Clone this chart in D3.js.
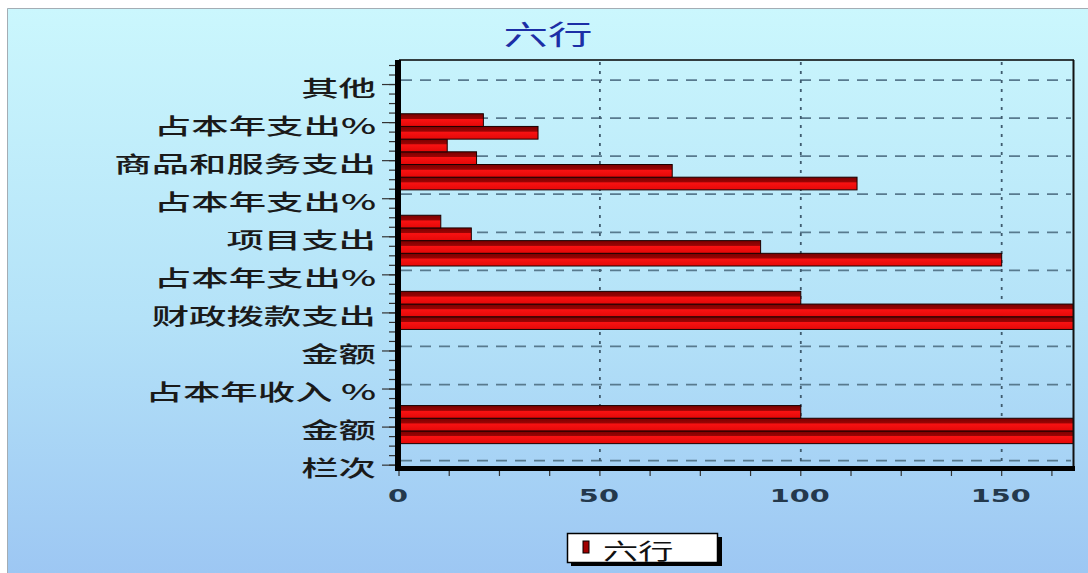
<!DOCTYPE html>
<html><head><meta charset="utf-8">
<script src="https://cdn.jsdelivr.net/npm/d3@7"></script>
<style>html,body{margin:0;padding:0;background:#fff;} svg{display:block}</style>
</head><body><svg id="c" width="1088" height="573"></svg>
<script>
// ---- data ----
const chartTitle = "六行";
const seriesName = "六行";
const categories = ["栏次","","","金额","","","占本年收入 %","","","金额","","",
  "财政拨款支出","","","占本年支出%","","","项目支出","","","占本年支出%","","",
  "商品和服务支出","","","占本年支出%","","","其他",""];
const values = [0,0,200,200,100,0,0,0,0,0,0,200,200,100,0,0,
  150,90,18,10.4,0,0,114,68,19.3,12,34.6,21,0,0,0,0];
const xTickValues = [0,50,100,150];
const xMax = 167.5;

// ---- layout ----
const svg = d3.select("#c");
const W = 1088, H = 573;
const plot = {left: 399, right: 1073, top: 60, bottom: 467};
const SX = 1.7;

const defs = svg.append("defs");
const bg = defs.append("linearGradient").attr("id","bg").attr("x1",0).attr("y1",0).attr("x2",0).attr("y2",1);
bg.append("stop").attr("offset","0%").attr("stop-color","#cbf7fd");
bg.append("stop").attr("offset","55%").attr("stop-color","#b4e2f8");
bg.append("stop").attr("offset","100%").attr("stop-color","#9dc7f3");
const bar = defs.append("linearGradient").attr("id","bar").attr("x1",0).attr("y1",0).attr("x2",0).attr("y2",1);
bar.append("stop").attr("offset","0%").attr("stop-color","#7a0000");
bar.append("stop").attr("offset","38%").attr("stop-color","#990404");
bar.append("stop").attr("offset","44%").attr("stop-color","#f81212");
bar.append("stop").attr("offset","100%").attr("stop-color","#e40808");
defs.append("clipPath").attr("id","clip").append("rect")
  .attr("x",plot.left).attr("y",plot.top).attr("width",plot.right-plot.left).attr("height",plot.bottom-plot.top);

// background
svg.append("rect").attr("x",0).attr("y",0).attr("width",W).attr("height",H).attr("fill","#ffffff");
svg.append("rect").attr("x",7).attr("y",8).attr("width",W-7).attr("height",H-8).attr("fill","url(#bg)");
svg.append("path").attr("d",`M7.5,${H} V8.5 H${W}`).attr("fill","none").attr("stroke","#a4adb4").attr("stroke-width",1);

// scales
const x = d3.scaleLinear().domain([0,xMax]).range([plot.left, plot.right-1]);
const y = d3.scaleBand().domain(d3.range(categories.length)).range([467, 61]).padding(0);
const bw = y.bandwidth();
const labeled = d3.range(categories.length).filter(i => categories[i] !== "");
const step = 3*bw/4;

// gridlines
svg.append("g").selectAll("line").data(labeled).join("line")
  .attr("x1",plot.left+2).attr("x2",plot.right-2)
  .attr("y1",i=>y(i)+bw/2).attr("y2",i=>y(i)+bw/2)
  .attr("stroke","#587a8e").attr("stroke-width",1.7).attr("stroke-dasharray","11,8");
svg.append("g").selectAll("line").data(xTickValues.filter(v=>v>0)).join("line")
  .attr("x1",d=>x(d)).attr("x2",d=>x(d)).attr("y1",plot.top+2).attr("y2",plot.bottom)
  .attr("stroke","#3f5b6e").attr("stroke-width",1.8).attr("stroke-dasharray","3,6");

// bars
svg.append("g").attr("clip-path","url(#clip)").selectAll("rect")
  .data(values.map((v,i)=>({v,i})).filter(d=>d.v>0)).join("rect")
  .attr("x",x(0)).attr("y",d=>y(d.i)+2).attr("height",bw)
  .attr("width",d=>x(d.v)-x(0))
  .attr("fill","url(#bar)").attr("stroke","#1a0000").attr("stroke-width",1);

// frame
svg.append("line").attr("x1",plot.left).attr("x2",plot.right+1).attr("y1",plot.top).attr("y2",plot.top)
  .attr("stroke","#000").attr("stroke-width",1.5);
svg.append("line").attr("x1",plot.right+0.5).attr("x2",plot.right+0.5).attr("y1",plot.top).attr("y2",plot.bottom+2)
  .attr("stroke","#111").attr("stroke-width",2);

// y axis ticks
const major0 = y(0)+bw/2+4.5;
const minorY = d3.range(-2, 50).map(k => major0 - k*step).filter(v => v >= plot.top+2 && v <= plot.bottom+3);
svg.append("g").selectAll("line").data(minorY).join("line")
  .attr("x1",389).attr("x2",396).attr("y1",d=>d).attr("y2",d=>d)
  .attr("stroke","#333").attr("stroke-width",1.2);
svg.append("g").selectAll("line").data(labeled).join("line")
  .attr("x1",382).attr("x2",396).attr("y1",i=>y(i)+bw/2+4.5).attr("y2",i=>y(i)+bw/2+4.5)
  .attr("stroke","#333").attr("stroke-width",1.2);

// x axis minor ticks
svg.append("g").selectAll("line").data(d3.range(0, xMax, 12.5)).join("line")
  .attr("x1",d=>x(d)).attr("x2",d=>x(d)).attr("y1",470).attr("y2",476)
  .attr("stroke","#333").attr("stroke-width",1.2);

// thick axes
svg.append("rect").attr("x",395).attr("y",plot.top).attr("width",6).attr("height",plot.bottom-plot.top+4).attr("fill","#000");
svg.append("rect").attr("x",395).attr("y",466).attr("width",plot.right-395+2).attr("height",5).attr("fill","#000");

// y labels
const cjk = "'Noto Sans CJK SC','Noto Sans',sans-serif";
svg.append("g").selectAll("text").data(labeled).join("text")
  .attr("transform",i=>`translate(376,${y(i)+bw/2+6}) scale(${SX},1)`)
  .attr("text-anchor","end").attr("dominant-baseline","central")
  .attr("font-family",cjk).attr("font-size",22).attr("font-weight",500).attr("fill","#1a1a1a")
  .text(i=>categories[i]);

// x labels
svg.append("g").selectAll("text").data(xTickValues).join("text")
  .attr("transform",d=>`translate(${x(d)-1},502) scale(1.6,1)`)
  .attr("text-anchor","middle")
  .attr("font-family","'DejaVu Sans',sans-serif").attr("font-weight","bold").attr("font-size",18).attr("fill","#24394c")
  .text(d=>d);

// title
svg.append("text").attr("transform",`translate(548,45) scale(1.65,1)`)
  .attr("text-anchor","middle").attr("font-family",cjk).attr("font-size",27).attr("fill","#1c2ea6")
  .text(chartTitle);

// legend
const lg = svg.append("g");
lg.append("rect").attr("x",571).attr("y",537).attr("width",151).attr("height",29).attr("fill","#000");
lg.append("rect").attr("x",567.5).attr("y",533.5).attr("width",150).attr("height",29).attr("fill","#fff").attr("stroke","#000").attr("stroke-width",1.5);
lg.append("rect").attr("x",583).attr("y",541).attr("width",6).attr("height",12).attr("fill","#a00000").attr("stroke","#000").attr("stroke-width",1);
lg.append("text").attr("transform",`translate(603,549) scale(1.6,1)`).attr("dominant-baseline","central")
  .attr("font-family",cjk).attr("font-size",22).attr("fill","#111").text(seriesName);
</script></body></html>
